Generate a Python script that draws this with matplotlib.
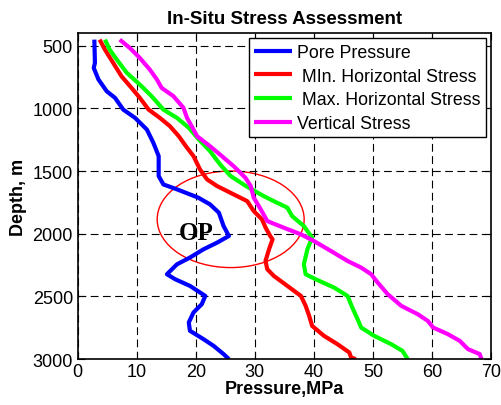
import matplotlib
matplotlib.use("Agg")
import matplotlib.pyplot as plt
from matplotlib.patches import Ellipse

plt.rcParams['font.family'] = ['Liberation Sans', 'DejaVu Sans']

# Pore pressure
pp_depth = [452, 638, 678, 770, 864, 916, 1010, 1076, 1169, 1275, 1381, 1461, 1540, 1607, 1646,
            1712, 1766, 1832, 1939, 2018, 2071, 2124, 2190, 2244, 2323, 2363, 2416, 2496, 2562,
            2628, 2708, 2774, 2841, 2894, 2960, 3000]
pp_val = [2.8, 2.9, 2.7, 3.5, 4.9, 6.3, 7.7, 9.7, 11.7, 12.8, 13.7, 13.7, 13.7, 14.5, 16.8,
          20.4, 22.4, 23.9, 24.7, 25.6, 23.6, 21.3, 19.0, 16.8, 15.1, 16.5, 19.0, 21.6, 21.0,
          19.6, 18.8, 19.0, 21.3, 23.0, 24.7, 25.6]

# Min horizontal stress
shmin_depth = [452, 532, 638, 744, 837, 916, 1010, 1076, 1142, 1222, 1314, 1381, 1487, 1567,
               1620, 1686, 1740, 1819, 1885, 1950, 2018, 2045, 2124, 2217, 2283, 2336, 2416,
               2496, 2575, 2655, 2735, 2814, 2881, 2947, 2987, 3000]
shmin_val = [3.7, 4.6, 6.0, 7.4, 9.1, 10.5, 12.0, 13.9, 15.6, 17.1, 18.5, 19.6, 20.7, 21.9,
             23.6, 26.4, 28.7, 29.8, 31.2, 31.8, 32.6, 33.0, 32.4, 31.8, 32.1, 33.2, 35.5,
             37.8, 38.6, 39.2, 39.7, 41.7, 44.0, 46.0, 46.3, 47.1]

# Max horizontal stress
shmax_depth = [452, 532, 611, 717, 810, 903, 1010, 1076, 1155, 1248, 1341, 1447, 1540, 1620,
               1700, 1740, 1792, 1859, 1939, 2031, 2124, 2244, 2323, 2363, 2429, 2496, 2588,
               2681, 2748, 2814, 2881, 2934, 3000]
shmax_val = [4.6, 5.4, 6.6, 8.3, 10.5, 12.5, 14.5, 16.8, 18.8, 20.5, 22.4, 24.1, 25.9, 28.5,
             31.5, 33.2, 35.5, 36.3, 38.3, 39.7, 38.9, 38.3, 38.6, 40.3, 43.4, 45.7, 46.5,
             47.4, 48.0, 50.2, 53.1, 55.0, 55.9]

# Vertical stress
sv_depth = [452, 518, 598, 691, 770, 837, 903, 996, 1076, 1169, 1222, 1302, 1381, 1461, 1554,
            1620, 1712, 1806, 1899, 1952, 2005, 2058, 2138, 2217, 2270, 2323, 2389, 2482, 2575,
            2642, 2695, 2748, 2801, 2854, 2920, 2960, 3000]
sv_val = [7.1, 8.8, 10.5, 12.2, 13.4, 14.2, 16.2, 17.9, 18.5, 19.6, 20.2, 22.4, 24.4, 26.4,
          28.4, 29.3, 29.8, 31.0, 32.1, 34.9, 37.8, 40.0, 42.9, 45.7, 48.0, 49.7, 50.8, 52.5,
          54.8, 57.6, 59.3, 60.2, 62.7, 64.7, 66.1, 68.1, 68.4]

labels = ['Pore Pressure', ' MIn. Horizontal Stress', ' Max. Horizontal Stress', 'Vertical Stress']
colors = ['#0000ff', '#ff0000', '#00ff00', '#ff00ff']

x_ticks = [0, 10, 20, 30, 40, 50, 60, 70]
y_ticks = [500, 1000, 1500, 2000, 2500, 3000]

fig = plt.figure(figsize=(5.02, 4.06), dpi=100)
ax = fig.add_axes([0.155, 0.113, 0.823, 0.803])

series = [(pp_val, pp_depth), (shmin_val, shmin_depth), (shmax_val, shmax_depth), (sv_val, sv_depth)]
for (xv, yv), lab, c in zip(series, labels, colors):
    ax.plot(xv, yv, color=c, lw=3, label=lab, solid_capstyle='butt')

ell = Ellipse((25.9, 1885), width=24.9, height=770, fill=False, edgecolor='#ff0000', lw=1.0)
ax.add_patch(ell)
ax.text(20.0, 2045, 'OP', fontsize=18, fontweight='bold', family='Liberation Serif',
        ha='center', va='baseline')

ax.set_xlim(0, 70)
ax.set_ylim(3000, 400)
ax.set_xticks(x_ticks)
ax.set_yticks(y_ticks)
ax.grid(True, color='black', linestyle=(0, (7, 4)), lw=0.8)
ax.tick_params(direction='in', top=True, right=True, labelsize=13, length=5, width=0.8)
ax.tick_params(axis='x', pad=3)
for s in ax.spines.values():
    s.set_linewidth(1.2)

ax.set_title('In-Situ Stress Assessment', fontsize=13.5, fontweight='bold', pad=7)
ax.set_xlabel('Pressure,MPa', fontsize=13, fontweight='bold', labelpad=0)
ax.set_ylabel('Depth, m', fontsize=13, fontweight='bold', labelpad=4)

leg = ax.legend(loc='upper right', fontsize=12.8, frameon=True, fancybox=False,
                edgecolor='black', framealpha=1, handlelength=2.1, handletextpad=0.28,
                borderpad=0.3, labelspacing=0.38, borderaxespad=0.3)
leg.get_frame().set_linewidth(1.0)

fig.savefig('out.png', dpi=100)
